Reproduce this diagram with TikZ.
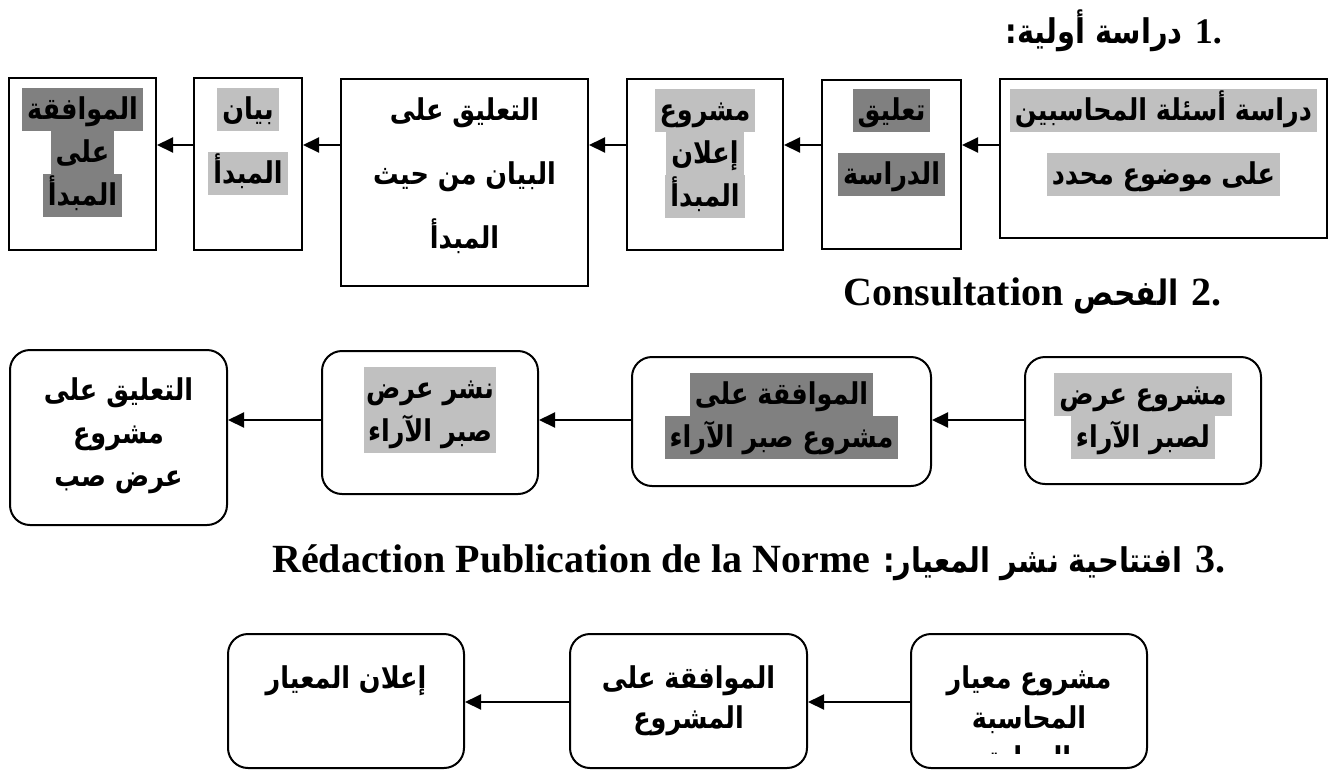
\documentclass[tikz,border=0pt]{standalone}
\usepackage{fontspec}
\setmainfont{Liberation Serif}
\newfontfamily\arabicfont[Script=Arabic,FakeStretch=0.85]{DejaVu Sans}
\TeXXeTstate=1
\usetikzlibrary{arrows.meta}
\definecolor{hilite}{HTML}{C0C0C0}
\definecolor{hidark}{HTML}{808080}
\setlength{\fboxsep}{0pt}
% one line of text on a highlight band
\newcommand\hlbar[2]{\colorbox{#1}{\rule[-12pt]{0pt}{43pt}\,#2\,}}
% one line of text without highlight
\newcommand\arline[1]{\rule[-12pt]{0pt}{43pt}#1}
% a tighter line for the last row
\newcommand\arlinesm[1]{\strut #1}

\begin{document}
\begin{tikzpicture}[x=1pt,y=-1pt,
  sqbox/.style={draw, line width=2pt, inner sep=0pt, anchor=north west},
  rbox/.style={sqbox, rounded corners=20pt},
  boxtext/.style={anchor=north, align=center, inner sep=0pt,
    font=\arabicfont\bfseries\fontsize{30}{43}\selectfont},
  boxtextsm/.style={boxtext, font=\arabicfont\bfseries\fontsize{30}{40}\selectfont},
  link/.style={line width=2pt, -{Triangle[length=16pt,width=15pt]}},
  heading/.style={anchor=base east, inner sep=0pt,
    font=\bfseries\fontsize{40}{48}\selectfont},
]
\useasboundingbox[fill=white] (0,0) rectangle (1336,769);

% ---- headings ----
\node[heading, font=\bfseries\fontsize{36}{42}\selectfont] (h1) at (1222,43)
  {\beginR 1. {\arabicfont\fontsize{34}{40}\selectfont دراسة أولية:}\endR};
\node[heading] (h2) at (1222,305)
  {\beginR 2. {\arabicfont\fontsize{35}{42}\selectfont الفحص} \beginL Consultation\endL\endR};
\node[heading] (h3) at (1226,572)
  {\beginR 3. {\arabicfont\fontsize{34}{42}\selectfont افتتاحية نشر المعيار:} \beginL Rédaction Publication de la Norme\endL\endR};

% ---- stage 1: square boxes ----
\node[sqbox, minimum width=147pt, minimum height=172pt] (A) at (8,77) {};
\node[sqbox, minimum width=108pt, minimum height=172pt] (B) at (193,77) {};
\node[sqbox, minimum width=247pt, minimum height=207pt] (C) at (340,78) {};
\node[sqbox, minimum width=156pt, minimum height=171pt] (D) at (626,78) {};
\node[sqbox, minimum width=139pt, minimum height=169pt] (E) at (821,79) {};
\node[sqbox, minimum width=327pt, minimum height=159pt] (F) at (999,78) {};

\node[boxtext] (At) at ([yshift=-11pt]A.north)
  {\hlbar{hidark}{\beginR الموافقة\endR}\\\hlbar{hidark}{\beginR على\endR}\\\hlbar{hidark}{\beginR المبدأ\endR}};
\node[boxtext] (Bt) at ([yshift=-11pt]B.north)
  {\hlbar{hilite}{\beginR بيان\endR}\\[21pt]\hlbar{hilite}{\beginR المبدأ\endR}};
\node[boxtext] (Ct) at ([yshift=-11pt]C.north)
  {\arline{\beginR التعليق على\endR}\\[21pt]\arline{\beginR البيان من حيث\endR}\\[21pt]\arline{\beginR المبدأ\endR}};
\node[boxtext] (Dt) at ([yshift=-11pt]D.north)
  {\hlbar{hilite}{\beginR مشروع\endR}\\\hlbar{hilite}{\beginR إعلان\endR}\\\hlbar{hilite}{\beginR المبدأ\endR}};
\node[boxtext] (Et) at ([yshift=-10pt]E.north)
  {\hlbar{hidark}{\beginR تعليق\endR}\\[21pt]\hlbar{hidark}{\beginR الدراسة\endR}};
\node[boxtext] (Ft) at ([yshift=-11pt]F.north)
  {\hlbar{hilite}{\beginR دراسة أسئلة المحاسبين\endR}\\[21pt]\hlbar{hilite}{\beginR على موضوع محدد\endR}};

\draw[link] ([yshift=-67pt]F.north west) -- ([yshift=-66pt]E.north east);
\draw[link] ([yshift=-66pt]E.north west) -- ([yshift=-67pt]D.north east);
\draw[link] ([yshift=-67pt]D.north west) -- ([yshift=-67pt]C.north east);
\draw[link] ([yshift=-67pt]C.north west) -- ([yshift=-68pt]B.north east);
\draw[link] ([yshift=-68pt]B.north west) -- ([yshift=-68pt]A.north east);

% ---- stage 2: rounded boxes ----
\node[rbox, minimum width=217pt, minimum height=175pt] (G) at (9,349) {};
\node[rbox, minimum width=216pt, minimum height=143pt] (J) at (321,350) {};
\node[rbox, minimum width=299pt, minimum height=129pt] (I) at (631,356) {};
\node[rbox, minimum width=236pt, minimum height=127pt] (H) at (1024,356) {};

\node[boxtext] (Gt) at ([yshift=-20pt]G.north)
  {\arline{\beginR التعليق على\endR}\\\arline{\beginR مشروع\endR}\\\arline{\beginR عرض صب\endR}};
\node[boxtext, fill=hilite, inner xsep=2pt] (Jt) at ([yshift=-17pt]J.north)
  {\arline{\beginR نشر عرض\endR}\\\arline{\beginR صبر الآراء\endR}};
\node[boxtext] (It) at ([yshift=-17pt]I.north)
  {\hlbar{hidark}{\beginR الموافقة على\endR}\\\hlbar{hidark}{\beginR مشروع صبر الآراء\endR}};
\node[boxtext] (Ht) at ([yshift=-17pt]H.north)
  {\hlbar{hilite}{\beginR مشروع عرض\endR}\\\hlbar{hilite}{\beginR لصبر الآراء\endR}};

\draw[link] ([yshift=-64pt]H.north west) -- ([yshift=-64pt]I.north east);
\draw[link] ([yshift=-64pt]I.north west) -- ([yshift=-70pt]J.north east);
\draw[link] ([yshift=-70pt]J.north west) -- ([yshift=-71pt]G.north east);

% ---- stage 3: rounded boxes ----
\node[rbox, minimum width=236pt, minimum height=134pt] (K) at (227,633) {};
\node[rbox, minimum width=237pt, minimum height=134pt] (L) at (569,633) {};
\node[rbox, minimum width=236pt, minimum height=134pt] (M) at (910,633) {};

\node[boxtextsm] (Kt) at ([yshift=-27pt]K.north) {\arlinesm{\beginR إعلان المعيار\endR}};
\node[boxtextsm] (Lt) at ([yshift=-27pt]L.north)
  {\arlinesm{\beginR الموافقة على\endR}\\\arlinesm{\beginR المشروع\endR}};
\begin{scope}
  % the third line runs past the inner margin and is cut off
  \clip (M.north west) rectangle ([yshift=16pt]M.south east);
  \node[boxtextsm] (Mt) at ([yshift=-27pt]M.north)
    {\arlinesm{\beginR مشروع معيار\endR}\\\arlinesm{\beginR المحاسبة\endR}\\\arlinesm{\beginR الدولية\endR}};
\end{scope}

\draw[link] ([yshift=-69pt]M.north west) -- ([yshift=-69pt]L.north east);
\draw[link] ([yshift=-69pt]L.north west) -- ([yshift=-69pt]K.north east);
\end{tikzpicture}
\end{document}
